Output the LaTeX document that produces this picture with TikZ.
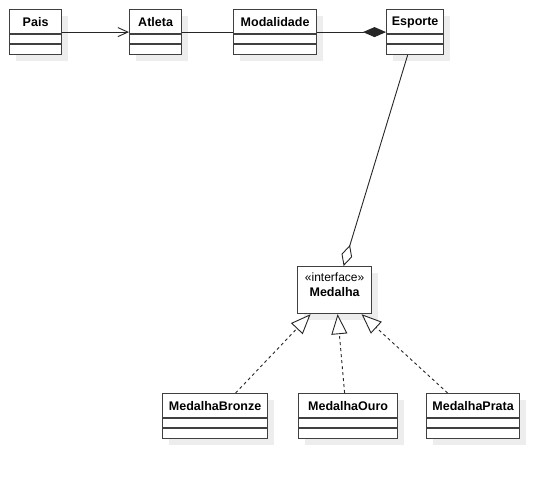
\documentclass[tikz,border=0pt]{standalone}
\usepackage{fontspec}
\setmainfont{Liberation Sans}
\usetikzlibrary{arrows.meta}
\definecolor{shadowc}{gray}{0.93}
\definecolor{boxline}{gray}{0.25}
\tikzset{
  cls/.style={draw=boxline, line width=1.2pt, fill=white, minimum height=45pt, inner sep=0pt, anchor=north west},
  clsline/.style={draw=boxline, line width=1.2pt},
  ctitle/.style={font=\fontsize{12.5}{14}\selectfont\bfseries, inner sep=0pt},
  conn/.style={draw=black!85, line width=0.9pt},
  real/.style={conn, dash pattern=on 3pt off 3pt},
}
\newcommand\umlcls[5]{%
  \fill[shadowc] (#2+7,#3+7) rectangle ++(#4,45);
  \node[cls, minimum width=#4pt] (#1) at (#2,#3) {};
  \draw[clsline] ([yshift=-25pt]#1.north west) -- ([yshift=-25pt]#1.north east);
  \draw[clsline] ([yshift=-35pt]#1.north west) -- ([yshift=-35pt]#1.north east);
  \node[ctitle] (#1-t) at ([yshift=-13.5pt]#1.north) {#5};
}
\begin{document}
\begin{tikzpicture}[x=1pt,y=-1pt]
\useasboundingbox[fill=white] (0,0) rectangle (559,478);
\umlcls{pais}{9}{9}{52}{Pais}
\umlcls{atleta}{129}{9}{52}{Atleta}
\umlcls{modalidade}{233}{9}{83}{Modalidade}
\umlcls{esporte}{386}{9}{57}{Esporte}
\umlcls{bronze}{162}{393}{105}{MedalhaBronze}
\umlcls{ouro}{298}{393}{99}{MedalhaOuro}
\umlcls{prata}{426}{393}{93}{MedalhaPrata}
% interface
\fill[shadowc] (304,273) rectangle ++(74,47);
\node[cls, minimum width=74pt, minimum height=47pt] (medalha) at (297,266) {};
\node[inner sep=0pt, font=\fontsize{12}{14}\selectfont] (medalha-s) at ([yshift=-11pt]medalha.north) {«interface»};
\node[ctitle] (medalha-t) at ([yshift=-26pt]medalha.north) {Medalha};
% connectors
\draw[conn, -{Straight Barb[length=10pt,width=9pt]}] (pais) -- (atleta);
\draw[conn] (atleta) -- (modalidade);
\draw[conn, -{Diamond[length=23pt,width=10pt]}] (modalidade) -- (esporte);
\draw[conn, -{Diamond[open,length=22pt,width=11pt,fill=white]}] ([xshift=-7.5pt]esporte.south) -- ([xshift=9pt]medalha.north);
\draw[real, -{Triangle[open,length=20pt,width=16pt,fill=white]}] ([xshift=20.5pt]bronze.north) -- ([xshift=-24pt]medalha.south);
\draw[real, -{Triangle[open,length=20pt,width=16pt,fill=white]}] ([xshift=-3.5pt]ouro.north) -- ([xshift=3pt]medalha.south);
\draw[real, -{Triangle[open,length=20pt,width=16pt,fill=white]}] ([xshift=-25.5pt]prata.north) -- ([xshift=27pt]medalha.south);
\end{tikzpicture}
\end{document}
